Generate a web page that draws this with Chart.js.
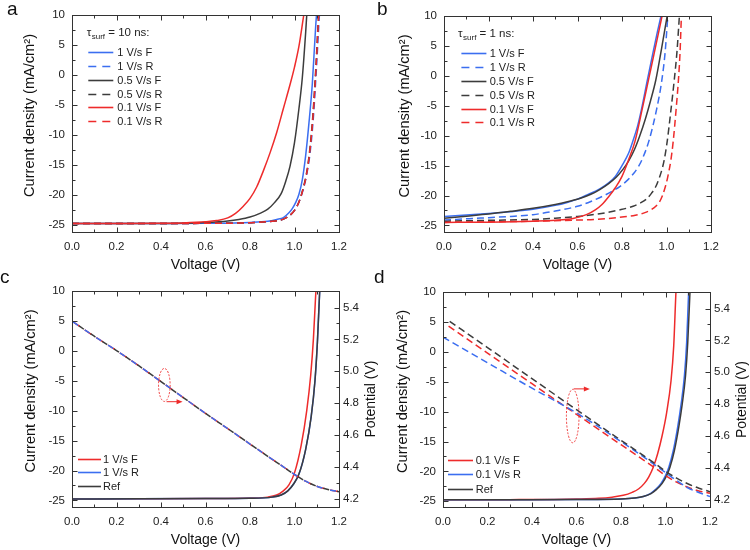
<!DOCTYPE html>
<html><head><meta charset="utf-8">
<script src="https://cdn.jsdelivr.net/npm/chart.js@4.4.1/dist/chart.umd.min.js"></script>
<style>
html,body{margin:0;padding:0;background:#fff;width:750px;height:550px;overflow:hidden;position:relative;}
canvas{position:absolute;}
.letter{position:absolute;font-family:Arial,"Liberation Sans",sans-serif;font-size:19px;line-height:19px;color:#111;}
</style></head><body>
<canvas id="ca" style="left:0;top:0" width="375" height="275"></canvas>
<canvas id="cb" style="left:375px;top:0" width="375" height="275"></canvas>
<canvas id="cd" style="left:375px;top:275px" width="375" height="275"></canvas>
<canvas id="cc" style="left:0;top:275px" width="385" height="275"></canvas>
<div class="letter" style="left:7px;top:-1px">a</div>
<div class="letter" style="left:377px;top:-1px">b</div>
<div class="letter" style="left:0px;top:267px">c</div>
<div class="letter" style="left:374px;top:267px">d</div>
<script>
// ---------- tick labels ----------
const X_TICKS = [0, 0.2, 0.4, 0.6, 0.8, 1.0, 1.2];
const X_MINOR = [0.1, 0.3, 0.5, 0.7, 0.9, 1.1];
const Y_TICKS = [-25, -20, -15, -10, -5, 0, 5, 10];
const Y_MINOR = [-22.5, -17.5, -12.5, -7.5, -2.5, 2.5, 7.5];
const P_TICKS = [4.2, 4.4, 4.6, 4.8, 5.0, 5.2, 5.4];
const P_MINOR = [4.3, 4.5, 4.7, 4.9, 5.1, 5.3];

// ---------- panel a (tau_surf = 10 ns) ----------
const A_LABELS = ['1 V/s F', '1 V/s R', '0.5 V/s F', '0.5 V/s R', '0.1 V/s F', '0.1 V/s R'];
const A_F1_V = [0, 0.4, 0.6, 0.8, 0.88, 0.92, 0.95, 0.975, 0.99, 1.005, 1.02, 1.035, 1.05, 1.065, 1.08, 1.095, 1.105];
const A_F1_J = [-24.8, -24.78, -24.75, -24.6, -24.4, -24.1, -23.8, -23.0, -22.3, -21.3, -19.9, -17.5, -13.5, -8.0, -1.5, 8, 13];
const A_R1_V = [0, 0.4, 0.6, 0.8, 0.9, 0.95, 0.98, 1.0, 1.02, 1.04, 1.055, 1.07, 1.085, 1.1, 1.112, 1.124];
const A_R1_J = [-24.8, -24.78, -24.75, -24.65, -24.4, -24.05, -23.4, -22.6, -21.2, -19.0, -16.6, -13.0, -7.0, 2.0, 10, 16];
const A_F05_V = [0, 0.3, 0.5, 0.6, 0.7, 0.75, 0.8, 0.85, 0.88, 0.91, 0.94, 0.96, 0.98, 1.0, 1.02, 1.035, 1.05, 1.06];
const A_F05_J = [-24.8, -24.78, -24.72, -24.6, -24.35, -24.1, -23.7, -23.0, -22.4, -21.3, -19.8, -17.8, -15.2, -11.3, -5.6, -0.5, 7.0, 13];
const A_R05_V = [0, 0.4, 0.6, 0.8, 0.9, 0.95, 0.98, 1.0, 1.02, 1.038, 1.053, 1.067, 1.082, 1.097, 1.108, 1.12];
const A_R05_J = [-24.8, -24.78, -24.75, -24.65, -24.4, -24.05, -23.4, -22.6, -21.2, -19.0, -16.6, -13.0, -7.0, 2.0, 10, 16];
const A_F01_V = [0, 0.2, 0.4, 0.5, 0.6, 0.65, 0.7, 0.735, 0.77, 0.8, 0.83, 0.86, 0.89, 0.92, 0.95, 0.98, 1.0, 1.02, 1.04, 1.05];
const A_F01_J = [-24.8, -24.78, -24.74, -24.68, -24.5, -24.3, -23.85, -23.1, -21.9, -20.6, -18.7, -16.0, -13.0, -9.6, -5.6, -1.6, 1.3, 4.8, 9.6, 12];
const A_R01_V = [0, 0.4, 0.6, 0.8, 0.9, 0.95, 0.98, 1.0, 1.02, 1.039, 1.054, 1.068, 1.083, 1.098, 1.109, 1.121];
const A_R01_J = [-24.8, -24.78, -24.75, -24.65, -24.4, -24.05, -23.4, -22.6, -21.2, -19.0, -16.6, -13.0, -7.0, 2.0, 10, 16];

// ---------- panel b (tau_surf = 1 ns) ----------
const B_LABELS = ['1 V/s F', '1 V/s R', '0.5 V/s F', '0.5 V/s R', '0.1 V/s F', '0.1 V/s R'];
const B_F1_V = [0, 0.1, 0.2, 0.3, 0.4, 0.5, 0.55, 0.6, 0.65, 0.7, 0.74, 0.77, 0.8, 0.83, 0.848, 0.87, 0.887, 0.915, 0.94, 0.96, 0.975, 0.99];
const B_F1_J = [-23.5, -23.25, -23.0, -22.7, -22.3, -21.65, -21.2, -20.6, -19.8, -18.9, -17.9, -16.8, -15.0, -12.9, -11.0, -8.4, -5.7, -0.5, 4.0, 7.5, 10, 13];
const B_R1_V = [0, 0.1, 0.2, 0.3, 0.4, 0.5, 0.6, 0.66, 0.72, 0.76, 0.79, 0.82, 0.855, 0.875, 0.89, 0.92, 0.955, 0.978, 0.994, 1.006, 1.016];
const B_R1_J = [-24.1, -23.9, -23.7, -23.5, -23.2, -22.6, -21.8, -21.0, -20.0, -19.2, -18.5, -17.6, -16.2, -15.1, -14.0, -11.0, -5.7, -1.0, 4.0, 10, 14];
const B_F05_V = [0, 0.1, 0.2, 0.3, 0.4, 0.5, 0.55, 0.61, 0.66, 0.7, 0.74, 0.775, 0.805, 0.83, 0.856, 0.88, 0.905, 0.928, 0.952, 0.978, 1.003, 1.02];
const B_F05_J = [-23.8, -23.45, -23.1, -22.65, -22.15, -21.5, -21.1, -20.5, -19.8, -19.0, -18.0, -16.9, -15.6, -14.2, -12.3, -10.0, -7.2, -4.2, -0.7, 4.6, 10, 13.5];
const B_R05_V = [0, 0.2, 0.4, 0.5, 0.6, 0.7, 0.79, 0.85, 0.88, 0.91, 0.933, 0.952, 0.968, 0.98, 0.99, 1.003, 1.02, 1.034, 1.047, 1.058, 1.066];
const B_R05_J = [-24.3, -24.15, -24.0, -23.8, -23.5, -23.05, -22.4, -21.8, -21.3, -20.6, -19.6, -18.5, -17.0, -15.6, -14.0, -11.0, -5.7, -1.0, 4.0, 10, 14];
const B_F01_V = [0, 0.2, 0.4, 0.5, 0.58, 0.64, 0.68, 0.71, 0.74, 0.77, 0.8, 0.83, 0.858, 0.89, 0.92, 0.95, 0.98, 1.0];
const B_F01_J = [-24.5, -24.45, -24.3, -24.15, -23.85, -23.2, -22.4, -21.5, -20.2, -18.7, -16.8, -14.0, -11.0, -5.7, -0.5, 4.7, 10, 13.5];
const B_R01_V = [0, 0.2, 0.4, 0.6, 0.68, 0.8, 0.86, 0.9, 0.93, 0.952, 0.968, 0.982, 0.995, 1.005, 1.02, 1.03, 1.043, 1.054, 1.061, 1.067, 1.075];
const B_R01_J = [-24.5, -24.4, -24.3, -24.1, -24.0, -23.6, -23.3, -22.9, -22.4, -21.8, -21.1, -20.0, -18.5, -17.0, -14.0, -11.0, -5.7, -0.5, 4.0, 10, 15];

// ---------- panel c (1 V/s vs Ref) ----------
const C_LABELS = ['1 V/s F', '1 V/s R', 'Ref'];
const C_F1_V = [0, 0.3, 0.6, 0.8, 0.88, 0.92, 0.95, 0.975, 1.0, 1.03, 1.055, 1.073, 1.085, 1.094, 1.102];
const C_F1_J = [-24.75, -24.73, -24.7, -24.6, -24.45, -24.1, -23.4, -22.4, -20.4, -15.8, -10.0, -4.0, 2.0, 8.5, 14];
const C_R1_V = [0, 0.3, 0.6, 0.8, 0.9, 0.94, 0.97, 0.995, 1.02, 1.05, 1.075, 1.092, 1.103, 1.112, 1.12];
const C_R1_J = [-24.75, -24.73, -24.7, -24.65, -24.45, -24.1, -23.4, -22.3, -20.6, -16.5, -11.0, -5.0, 1.5, 9.0, 15];
const C_REF_V = [0, 0.3, 0.6, 0.8, 0.9, 0.94, 0.97, 0.995, 1.02, 1.05, 1.075, 1.092, 1.103, 1.112, 1.12];
const C_REF_J = [-24.75, -24.73, -24.7, -24.65, -24.45, -24.1, -23.4, -22.3, -20.6, -16.5, -11.0, -5.0, 1.5, 9.0, 15];
const C_POT_V = [0.005, 0.1, 0.2, 0.3, 0.4, 0.5, 0.6, 0.7, 0.8, 0.9, 0.95, 1.0, 1.05, 1.1, 1.15, 1.2];
const C_POT_F1 = [5.31, 5.22, 5.13, 5.035, 4.935, 4.835, 4.736, 4.64, 4.543, 4.447, 4.40, 4.352, 4.31, 4.278, 4.258, 4.244];
const C_POT_R1 = [5.31, 5.22, 5.13, 5.035, 4.935, 4.835, 4.736, 4.64, 4.543, 4.447, 4.40, 4.352, 4.31, 4.278, 4.258, 4.244];
const C_POT_REF = [5.31, 5.22, 5.13, 5.035, 4.935, 4.835, 4.736, 4.64, 4.543, 4.447, 4.40, 4.352, 4.31, 4.278, 4.258, 4.244];

// ---------- panel d (0.1 V/s vs Ref) ----------
const D_LABELS = ['0.1 V/s F', '0.1 V/s R', 'Ref'];
const D_F01_V = [0, 0.3, 0.5, 0.6, 0.7, 0.76, 0.81, 0.85, 0.88, 0.905, 0.925, 0.945, 0.965, 0.985, 1.005, 1.025, 1.037, 1.047, 1.056];
const D_F01_J = [-24.75, -24.72, -24.68, -24.62, -24.5, -24.3, -24.0, -23.5, -22.9, -22.0, -20.9, -19.3, -17.0, -14.0, -10.2, -4.8, 1.0, 10, 16];
const D_R01_V = [0, 0.3, 0.6, 0.8, 0.86, 0.9, 0.932, 0.956, 0.98, 1.0, 1.015, 1.035, 1.055, 1.07, 1.085, 1.095, 1.104, 1.113];
const D_R01_J = [-24.75, -24.73, -24.7, -24.6, -24.45, -24.2, -23.7, -23.0, -22.0, -20.7, -19.3, -16.5, -12.5, -8.8, -4.0, 1.5, 10, 16];
const D_REF_V = [0, 0.3, 0.6, 0.8, 0.86, 0.9, 0.935, 0.96, 0.985, 1.005, 1.02, 1.04, 1.06, 1.075, 1.09, 1.1, 1.11, 1.12];
const D_REF_J = [-24.75, -24.73, -24.7, -24.6, -24.45, -24.2, -23.7, -23.0, -22.0, -20.7, -19.3, -16.5, -12.5, -8.8, -4.0, 1.5, 10, 16];
const D_POT_F01_V = [0.025, 0.2, 0.4, 0.6, 0.8, 0.9, 0.95, 1.0, 1.05, 1.1, 1.15, 1.2];
const D_POT_F01 = [5.29, 5.12, 4.928, 4.736, 4.545, 4.45, 4.402, 4.352, 4.31, 4.278, 4.255, 4.24];
const D_POT_R01_V = [0, 0.2, 0.4, 0.6, 0.8, 0.9, 0.95, 1.0, 1.05, 1.1, 1.15, 1.2];
const D_POT_R01 = [5.22, 5.06, 4.9, 4.745, 4.565, 4.47, 4.42, 4.37, 4.32, 4.275, 4.245, 4.22];
const D_POT_REF_V = [0.03, 0.2, 0.4, 0.6, 0.8, 0.9, 0.95, 1.0, 1.05, 1.1, 1.15, 1.2];
const D_POT_REF = [5.32, 5.155, 4.96, 4.765, 4.573, 4.478, 4.43, 4.378, 4.335, 4.3, 4.272, 4.25];

// ---------- styling ----------
const FONT = 'Arial, "Liberation Sans", sans-serif';
const BLUE = '#3b6ef0', RED = '#ee2b2b', BLACK = '#3c3c3c';
const DASH = [7, 4];

function pts(V, Y) { return V.map((v, i) => ({x: v, y: Y[i]})); }
function line(label, V, Y, color, dashed, axis, dash, dashOffset) {
  return { label, data: pts(V, Y), borderColor: color, backgroundColor: color, borderWidth: 1.5,
    borderDash: dashed ? (dash || DASH) : [], borderDashOffset: dashOffset || 0, pointRadius: 0, fill: false,
    cubicInterpolationMode: 'monotone', yAxisID: axis || 'y' };
}

function setTicks(arr) { return sc => { sc.ticks = arr.map(v => ({value: v})); }; }
const tickFont = {family: FONT, size: 11.5};

function makeScales(p) {
  const s = {
    x: { type: 'linear', min: 0, max: 1.2, afterBuildTicks: setTicks(X_TICKS), afterFit: sc => { sc.height = p.xh; },
      grid: {display: false, drawTicks: false}, border: {display: false},
      ticks: {font: tickFont, color: '#222', padding: 8, maxRotation: 0, autoSkip: false, callback: v => v.toFixed(1)} },
    y: { type: 'linear', position: 'left', min: p.ymin, max: 10, afterBuildTicks: setTicks(Y_TICKS), afterFit: sc => { sc.width = p.yw; },
      grid: {display: false, drawTicks: false}, border: {display: false},
      ticks: {font: tickFont, color: '#222', padding: 7, autoSkip: false, callback: v => String(v)} }
  };
  if (p.y2) {
    s.y2 = { type: 'linear', position: 'right', min: p.y2min, max: p.y2max, afterBuildTicks: setTicks(P_TICKS), afterFit: sc => { sc.width = p.y2w; },
      grid: {display: false, drawTicks: false}, border: {display: false},
      ticks: {font: tickFont, color: '#222', padding: 4, autoSkip: false, callback: v => v.toFixed(1)} };
  }
  return s;
}

function seg(ctx, x1, y1, x2, y2) { ctx.beginPath(); ctx.moveTo(x1, y1); ctx.lineTo(x2, y2); ctx.stroke(); }

const frameTicks = {
  id: 'frameTicks',
  afterDatasetsDraw(chart) {
    const {ctx, chartArea: a, scales} = chart;
    const L = Math.round(a.left) + 0.5, R = Math.round(a.right) + 0.5, T = Math.round(a.top) + 0.5, B = Math.round(a.bottom) + 0.5;
    ctx.save();
    ctx.strokeStyle = '#333'; ctx.lineWidth = 1;
    ctx.strokeRect(L, T, R - L, B - T);
    const X = scales.x, Y = scales.y, Y2 = scales.y2;
    const xt = (vals, len) => vals.forEach(v => { const px = Math.round(X.getPixelForValue(v)) + 0.5; seg(ctx, px, B, px, B - len); seg(ctx, px, T, px, T + len); });
    const yl = (sc, vals, len, left, right) => vals.forEach(v => { const py = Math.round(sc.getPixelForValue(v)) + 0.5;
      if (left) seg(ctx, L, py, L + len, py); if (right) seg(ctx, R, py, R - len, py); });
    xt(X_TICKS, 5); xt(X_MINOR, 3);
    yl(Y, Y_TICKS, 5, true, !Y2); yl(Y, Y_MINOR, 3, true, !Y2);
    if (Y2) { yl(Y2, P_TICKS, 5, false, true); yl(Y2, P_MINOR, 3, false, true); }
    ctx.restore();
  },
  afterDraw(chart, args, o) {
    const {ctx, chartArea: a} = chart;
    ctx.save();
    ctx.fillStyle = '#111';
    ctx.textAlign = 'center'; ctx.textBaseline = 'middle';
    ctx.font = `14px ${FONT}`;
    ctx.fillText('Voltage (V)', (a.left + a.right) / 2, o.xTitleY);
    const mid = (a.top + a.bottom) / 2;
    ctx.font = `14.6px ${FONT}`;
    ctx.save(); ctx.translate(o.yTitleX, mid - 8); ctx.rotate(-Math.PI / 2);
    ctx.fillText('Current density (mA/cm\u00B2)', 0, 0); ctx.restore();
    if (o.y2TitleX) {
      ctx.font = `14px ${FONT}`;
      ctx.save(); ctx.translate(o.y2TitleX, mid); ctx.rotate(-Math.PI / 2);
      ctx.fillText('Potential (V)', 0, 0); ctx.restore();
    }
    ctx.restore();
  }
};

const jvLegend = {
  id: 'jvLegend',
  afterDraw(chart, args, o) {
    if (!o || !o.items) return;
    const {ctx, chartArea: a} = chart;
    ctx.save();
    ctx.fillStyle = '#222'; ctx.textBaseline = 'middle'; ctx.textAlign = 'left';
    if (o.title) {
      let x = a.left + o.titleX; const y = a.top + o.titleY;
      ctx.font = `11.5px ${FONT}`; ctx.fillText('\u03C4', x, y); x += ctx.measureText('\u03C4').width + 0.5;
      ctx.font = `8px ${FONT}`; ctx.fillText('surf', x, y + 3.5); x += ctx.measureText('surf').width;
      ctx.font = `11.5px ${FONT}`; ctx.fillText(o.title, x, y);
    }
    ctx.font = `11px ${FONT}`;
    o.items.forEach((idx, i) => {
      const d = chart.data.datasets[idx];
      const yy = Math.round(a.top + o.row0 + i * o.rowH) + 0.5;
      ctx.strokeStyle = d.borderColor; ctx.lineWidth = 1.6;
      ctx.setLineDash(d.borderDash && d.borderDash.length ? [8, 6] : []);
      seg(ctx, a.left + o.lineX, yy, a.left + o.lineX + o.lineLen, yy);
      ctx.setLineDash([]);
      ctx.fillText(d.label, a.left + o.textX, yy);
    });
    ctx.restore();
  }
};

const loopMark = {
  id: 'loopMark',
  afterDraw(chart, args, o) {
    if (!o || o.cx === undefined) return;
    const {ctx, scales} = chart;
    const cx = scales.x.getPixelForValue(o.cx), cy = scales.y.getPixelForValue(o.cy);
    ctx.save();
    ctx.strokeStyle = RED; ctx.lineWidth = 0.9; ctx.setLineDash([2, 1.5]);
    ctx.beginPath(); ctx.ellipse(cx, cy, o.rx, o.ry, 0, 0, Math.PI * 2); ctx.stroke();
    ctx.setLineDash([]);
    const ay = scales.y.getPixelForValue(o.ay), x1 = scales.x.getPixelForValue(o.ax1), x2 = scales.x.getPixelForValue(o.ax2);
    ctx.lineWidth = 1; seg(ctx, x1, ay, x2 - 4, ay);
    ctx.fillStyle = RED; ctx.beginPath(); ctx.moveTo(x2, ay); ctx.lineTo(x2 - 6, ay - 2.5); ctx.lineTo(x2 - 6, ay + 2.5); ctx.closePath(); ctx.fill();
    ctx.restore();
  }
};

function build(id, datasets, p) {
  datasets.forEach((d, i) => { d.order = -i; }); // later datasets drawn on top
  return new Chart(document.getElementById(id), {
    type: 'line',
    data: {datasets},
    options: {
      responsive: false, animation: false, devicePixelRatio: 1,
      layout: {padding: {top: p.top, right: p.right, left: 0, bottom: 0}},
      scales: makeScales(p),
      plugins: {legend: {display: false}, tooltip: {enabled: false}, title: {display: false},
        frameTicks: p.titles, jvLegend: p.legend, loopMark: p.loop || {}}
    },
    plugins: [frameTicks, jvLegend, loopMark]
  });
}

// panel a
build('ca', [
  line(A_LABELS[0], A_F1_V, A_F1_J, BLUE, false),
  line(A_LABELS[1], A_R1_V, A_R1_J, BLUE, true),
  line(A_LABELS[2], A_F05_V, A_F05_J, BLACK, false),
  line(A_LABELS[3], A_R05_V, A_R05_J, BLACK, true),
  line(A_LABELS[4], A_F01_V, A_F01_J, RED, false),
  line(A_LABELS[5], A_R01_V, A_R01_J, RED, true)
], {top: 15, right: 36, xh: 43, yw: 72, ymin: -26.2,
  titles: {xTitleY: 265, yTitleX: 30},
  legend: {title: ' = 10 ns:', titleX: 14.7, titleY: 18.3, lineX: 16.3, lineLen: 25, textX: 45.3, row0: 37.3, rowH: 13.75, items: [0, 1, 2, 3, 4, 5]}});

// panel b
build('cb', [
  line(B_LABELS[0], B_F1_V, B_F1_J, BLUE, false),
  line(B_LABELS[1], B_R1_V, B_R1_J, BLUE, true),
  line(B_LABELS[2], B_F05_V, B_F05_J, BLACK, false),
  line(B_LABELS[3], B_R05_V, B_R05_J, BLACK, true),
  line(B_LABELS[4], B_F01_V, B_F01_J, RED, false),
  line(B_LABELS[5], B_R01_V, B_R01_J, RED, true)
], {top: 16, right: 39, xh: 43, yw: 69, ymin: -26.1,
  titles: {xTitleY: 265, yTitleX: 29.5},
  legend: {title: ' = 1 ns:', titleX: 14, titleY: 18, lineX: 17.4, lineLen: 25, textX: 45.7, row0: 37.3, rowH: 13.8, items: [0, 1, 2, 3, 4, 5]}});

// panel c
build('cc', [
  line(C_LABELS[0], C_F1_V, C_F1_J, RED, false),
  line(C_LABELS[1], C_R1_V, C_R1_J, BLUE, false),
  line(C_LABELS[2], C_REF_V, C_REF_J, BLACK, false),
  line(C_LABELS[0], C_POT_V, C_POT_F1, RED, true, 'y2', [8, 6], 0),
  line(C_LABELS[1], C_POT_V, C_POT_R1, BLUE, true, 'y2', [6, 8], 0),
  line(C_LABELS[2], C_POT_V, C_POT_REF, BLACK, true, 'y2', [6, 8], 7)
], {top: 16, right: 0, xh: 43, yw: 72, ymin: -26.1, y2: true, y2min: 4.148, y2max: 5.504, y2w: 46,
  titles: {xTitleY: 265, yTitleX: 30.5, y2TitleX: 370.7},
  legend: {lineX: 6, lineLen: 23, textX: 31, row0: 167.6, rowH: 13.7, items: [0, 1, 2]},
  loop: {cx: 0.415, cy: -5.7, rx: 5.8, ry: 16.5, ay: -8.5, ax1: 0.425, ax2: 0.497}});

// panel d
build('cd', [
  line(D_LABELS[0], D_F01_V, D_F01_J, RED, false),
  line(D_LABELS[1], D_R01_V, D_R01_J, BLUE, false),
  line(D_LABELS[2], D_REF_V, D_REF_J, BLACK, false),
  line(D_LABELS[0], D_POT_F01_V, D_POT_F01, RED, true, 'y2'),
  line(D_LABELS[1], D_POT_R01_V, D_POT_R01, BLUE, true, 'y2'),
  line(D_LABELS[2], D_POT_REF_V, D_POT_REF, BLACK, true, 'y2')
], {top: 17, right: 0, xh: 43, yw: 68, ymin: -25.95, y2: true, y2min: 4.154, y2max: 5.504, y2w: 40,
  titles: {xTitleY: 265, yTitleX: 27.5, y2TitleX: 366.7},
  legend: {lineX: 5, lineLen: 25, textX: 32.7, row0: 168.3, rowH: 14.1, items: [0, 1, 2]},
  loop: {cx: 0.583, cy: -10.75, rx: 6.3, ry: 26.7, ay: -6.2, ax1: 0.587, ax2: 0.66}});
</script>
</body></html>
